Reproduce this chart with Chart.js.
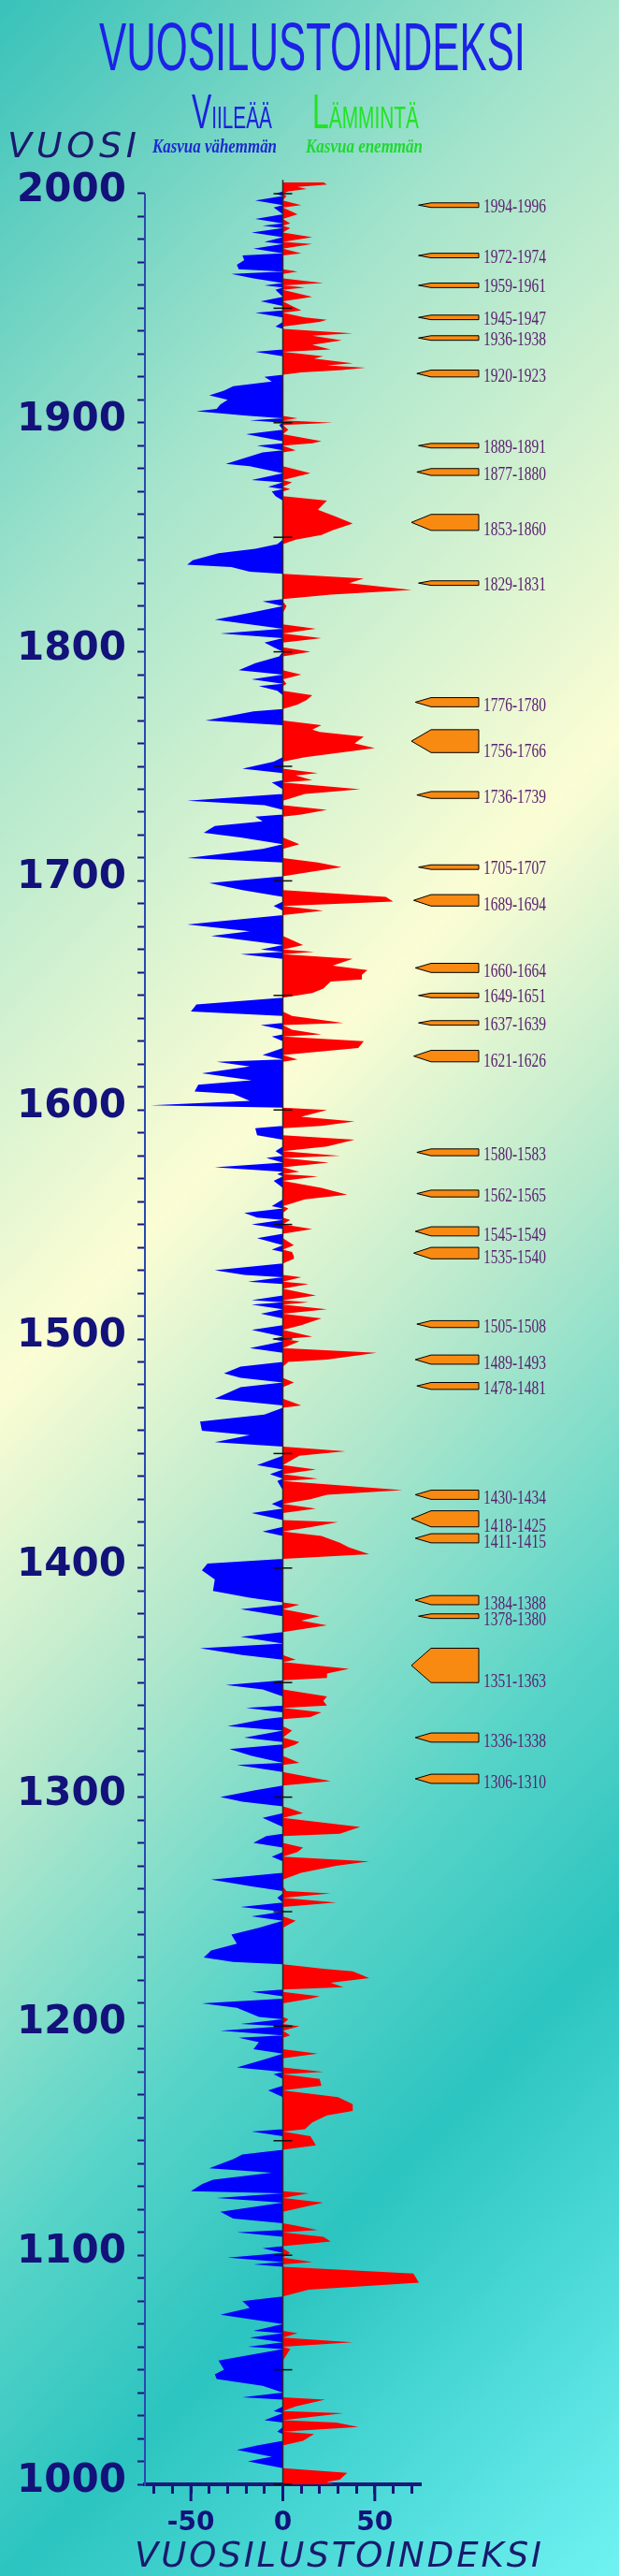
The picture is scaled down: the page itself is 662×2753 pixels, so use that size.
<!DOCTYPE html>
<html>
<head>
<meta charset="utf-8">
<script src="https://cdn.jsdelivr.net/npm/chart.js@4.4.1/dist/chart.umd.min.js"></script>
<style>
html,body{margin:0;padding:0;background:#3cc4bc;}
#wrap{position:relative;width:662px;height:2753px;overflow:hidden;}
</style>
</head>
<body>
<div id="wrap"><canvas id="Chart_1" width="662" height="2753"></canvas></div>
<script>
// vuosilustoindeksi, luettu kuvasta (vuosi -> indeksi)
let vuodet = [
1000,1001,1002,1005,1007,1010,1012,1015,1017,1019,1022,1023,1025,1027,1028,1031,1032,1034,1037,1038,
1040,1043,1046,1048,1050,1054,1059,1060,1062,1064,1066,1067,1070,1074,1077,1080,1082,1085,1088,1092,
1095,1096,1097,1099,1101,1103,1104,1106,1108,1110,1111,1113,1114,1116,1119,1123,1125,1127,1128,1131,
1133,1136,1138,1142,1144,1146,1148,1152,1154,1155,1158,1161,1163,1166,1169,1172,1174,1177,1179,1180,
1182,1186,1188,1190,1193,1195,1196,1198,1200,1201,1203,1204,1208,1210,1212,1213,1215,1216,1217,1219,
1221,1224,1225,1227,1228,1230,1233,1236,1240,1243,1246,1248,1250,1252,1254,1256,1258,1259,1261,1264,
1267,1270,1272,1274,1276,1278,1280,1283,1284,1287,1291,1293,1295,1296,1298,1300,1303,1305,1307,1311,
1314,1315,1318,1321,1323,1324,1326,1329,1331,1334,1335,1337,1339,1340,1342,1344,1347,1349,1351,1352,
1354,1356,1359,1360,1362,1365,1367,1370,1372,1375,1377,1379,1382,1384,1385,1387,1390,1395,1399,1402,
1404,1406,1409,1411,1414,1416,1418,1420,1421,1424,1426,1428,1430,1432,1434,1438,1439,1441,1443,1445,
1449,1451,1453,1455,1458,1460,1464,1467,1470,1471,1474,1479,1481,1483,1485,1488,1490,1491,1494,1496,
1499,1500,1501,1504,1506,1509,1511,1513,1515,1516,1517,1519,1522,1524,1525,1527,1528,1530,1533,1535,
1536,1538,1539,1541,1544,1546,1548,1550,1552,1553,1555,1557,1558,1561,1563,1566,1569,1571,1572,1573,
1575,1577,1579,1580,1582,1584,1587,1589,1592,1593,1595,1597,1600,1601,1602,1604,1607,1608,1611,1613,
1616,1619,1621,1622,1624,1627,1630,1632,1633,1635,1637,1638,1641,1643,1646,1649,1651,1653,1656,1657,
1659,1661,1663,1666,1668,1669,1670,1672,1676,1678,1681,1685,1687,1689,1691,1693,1696,1699,1702,1704,
1706,1708,1710,1714,1716,1719,1721,1724,1726,1728,1729,1731,1733,1735,1738,1740,1743,1744,1746,1747,
1749,1752,1754,1758,1760,1763,1765,1766,1768,1770,1774,1775,1777,1779,1781,1783,1785,1786,1788,1790,
1792,1795,1798,1800,1802,1804,1806,1808,1810,1812,1814,1817,1820,1822,1823,1825,1827,1830,1832,1834,
1835,1837,1838,1840,1843,1845,1847,1849,1851,1853,1856,1859,1862,1866,1868,1870,1871,1872,1874,1875,
1878,1881,1882,1887,1888,1890,1891,1892,1895,1897,1899,1900,1901,1902,1903,1905,1906,1908,1910,1912,
1914,1916,1918,1920,1921,1922,1923,1924,1925,1926,1928,1929,1931,1932,1934,1936,1938,1939,1941,1942,
1944,1945,1946,1948,1949,1951,1953,1955,1958,1959,1960,1961,1963,1965,1966,1967,1969,1971,1973,1974,
1976,1978,1979,1981,1983,1985,1986,1987,1989,1991,1994,1995,1997,1999,2000,2001,2002,2003,2004,2005];
let indeksi = [
28,24,31,35,0,-19,-6,-25,-14,11,17,-3,41,29,-10,33,-5,7,23,-22,
0,-11,-36,-37,-32,-35,4,-19,38,-18,8,-16,0,-34,-18,-22,0,14,74,71,
0,-16,16,-30,4,-11,0,26,22,-25,19,7,0,-27,-34,22,-36,14,-50,-44,
-38,-6,-40,-27,-22,0,18,15,-17,12,16,24,38,38,30,-8,21,20,-5,22,
-25,-8,19,-16,-13,-24,4,-34,9,-23,3,-13,-25,-44,15,20,-17,0,33,26,
47,38,23,0,-27,-43,-39,-25,-28,-13,7,-17,0,-23,29,-3,26,2,-17,-39,
10,29,47,-6,8,11,-16,-9,31,42,-11,11,4,0,-22,-34,-15,0,26,0,
-25,9,-17,-29,7,9,-21,5,-30,-10,15,21,-20,24,22,24,-11,-31,0,24,
24,36,0,7,-22,-45,0,-23,0,24,10,20,-23,9,0,-18,-38,-37,-44,-41,
0,47,36,31,21,-11,16,30,0,-17,18,-6,15,24,65,-3,19,-7,18,-14,
9,34,0,-37,-18,-44,-45,-10,0,10,-37,-23,6,-23,-32,-23,3,24,51,-18,
9,-6,16,-17,10,21,-12,24,-17,14,-17,18,0,14,-19,10,-21,-37,0,6,
6,5,-6,6,-14,0,16,-17,4,-14,-21,3,-6,12,35,21,-5,19,-3,9,
-37,25,-9,31,-4,24,39,-14,-15,21,39,10,24,0,-72,-18,-27,-48,-46,-17,
-44,-18,-36,8,-11,41,44,-6,21,5,-12,33,5,-50,-47,0,16,22,26,43,
43,46,27,38,-23,17,-12,11,-39,-18,-52,0,22,-5,60,56,-22,-40,0,16,
32,19,-52,-11,9,-23,-43,-37,-11,-15,10,24,-10,-52,12,42,-6,16,7,19,
-22,-5,12,50,39,44,20,16,21,-42,-16,0,8,13,16,-3,-13,2,-17,10,
-24,-15,-2,15,-5,-10,21,-34,18,-18,-37,-18,2,-11,0,26,70,36,44,0,
-18,-28,-52,-49,-35,-15,-3,7,21,27,38,29,19,24,-4,-6,4,-8,5,-17,
15,-18,-31,-11,7,-14,16,21,-20,3,-2,27,-18,8,-18,-47,-36,-34,-30,-40,
-32,-27,-6,-10,0,10,32,45,24,38,17,22,-15,26,16,32,16,38,0,-4,
20,24,12,-15,10,5,-12,16,-4,12,-10,22,-16,-28,8,-24,-25,-21,-22,10,
-16,16,-10,16,-17,4,-11,4,-15,8,-5,10,-15,2,-4,3,13,8,24,22];

// lämpimät jaksot (nuolet) ja niiden tekstit
let jaksoTekstit = ['1994-1996','1972-1974','1959-1961','1945-1947','1936-1938','1920-1923','1889-1891','1877-1880',
  '1853-1860','1829-1831','1776-1780','1756-1766','1736-1739','1705-1707','1689-1694','1660-1664','1649-1651',
  '1637-1639','1621-1626','1580-1583','1562-1565','1545-1549','1535-1540','1505-1508','1489-1493','1478-1481',
  '1430-1434','1418-1425','1411-1415','1384-1388','1378-1380','1351-1363','1336-1338','1306-1310'];
let jaksoAlku = [1994,1972,1959,1945,1936,1920,1889,1877,1853,1829,1776,1756,1736,1705,1689,1660,1649,
  1637,1621,1580,1562,1545,1535,1505,1489,1478,1430,1418,1411,1384,1378,1350,1324,1306];
let jaksoLoppu = [1996,1974,1961,1947,1938,1923,1891,1880,1860,1831,1780,1766,1739,1707,1694,1664,1651,
  1639,1626,1583,1565,1549,1540,1508,1493,1481,1434,1425,1415,1388,1380,1365,1328,1310];

let vuosiTicks = [];
for (let v = 1000; v <= 2000; v += 10) vuosiTicks.push(v);
let indeksiTicks = [-70,-60,-50,-40,-30,-20,-10,0,10,20,30,40,50,60,70];
let indeksiLabels = [-50, 0, 50];

const NAVY = '#16167a';
const yMax = 2006;
const pxYear = 2.448;
const topPad = 2655 - (yMax - 1000) * pxYear;

let lammin = vuodet.map((v, i) => ({ x: Math.max(indeksi[i], 0), y: v }));
let viilea = vuodet.map((v, i) => ({ x: Math.min(indeksi[i], 0), y: v }));

function fitText(ctx, text, x, y, width, font, color, spaced) {
  ctx.save();
  ctx.font = font;
  ctx.fillStyle = color;
  ctx.textAlign = 'left';
  ctx.textBaseline = 'alphabetic';
  let extra = 0;
  if (spaced && 'letterSpacing' in ctx) {
    const w0 = ctx.measureText(text).width;
    const sp = Math.max(0, (width - w0) / (text.length - 1));
    ctx.letterSpacing = sp + 'px';
    extra = sp;
  }
  const w = ctx.measureText(text).width - extra;
  ctx.translate(x, y);
  ctx.scale(width / w, 1);
  ctx.fillText(text, 0, 0);
  ctx.restore();
}

function smallCaps(ctx, big, rest, x, y, width, bigSize, smallSize, color) {
  ctx.save();
  const fam = '"Liberation Sans Narrow","Liberation Sans",Arial,sans-serif';
  ctx.font = bigSize + 'px ' + fam;
  const w1 = ctx.measureText(big).width;
  ctx.font = smallSize + 'px ' + fam;
  const w2 = ctx.measureText(rest).width;
  ctx.translate(x, y);
  ctx.scale(width / (w1 + w2), 1);
  ctx.fillStyle = color;
  ctx.font = bigSize + 'px ' + fam;
  ctx.fillText(big, 0, 0);
  ctx.font = smallSize + 'px ' + fam;
  ctx.fillText(rest, w1, 0);
  ctx.restore();
}

const tausta = {
  id: 'tausta',
  beforeDraw(chart) {
    const ctx = chart.ctx;
    const g = ctx.createLinearGradient(0, 0, 1724, 1630);
    g.addColorStop(0, '#38c2ba');
    g.addColorStop(0.2, '#a4e4cc');
    g.addColorStop(0.43, '#fbfdd4');
    g.addColorStop(0.56, '#b4e8cc');
    g.addColorStop(0.7, '#58d4c8');
    g.addColorStop(0.8, '#2cc4c0');
    g.addColorStop(1, '#70f2f2');
    ctx.save();
    ctx.fillStyle = g;
    ctx.fillRect(0, 0, chart.width, chart.height);
    ctx.restore();
  }
};

const koristeet = {
  id: 'koristeet',
  afterDraw(chart) {
    const ctx = chart.ctx;
    const ys = chart.scales.y, xs = chart.scales.x;
    const a = chart.chartArea;
    const x0 = xs.getPixelForValue(0);

    ctx.save();
    // nollaviiva
    ctx.strokeStyle = '#3a2424';
    ctx.lineWidth = 1.5;
    ctx.beginPath();
    ctx.moveTo(x0, a.top);
    ctx.lineTo(x0, a.bottom);
    ctx.stroke();

    // pystyakseli 1000-2000
    ctx.strokeStyle = '#2a48b0';
    ctx.lineWidth = 2;
    ctx.beginPath();
    ctx.moveTo(a.left, ys.getPixelForValue(2000));
    ctx.lineTo(a.left, ys.getPixelForValue(1000) + 2);
    ctx.stroke();

    // nollaviivan merkit 50 v välein
    ctx.strokeStyle = '#101010';
    ctx.lineWidth = 1.5;
    for (let v = 1000; v <= 2000; v += 50) {
      const y = ys.getPixelForValue(v);
      ctx.beginPath();
      ctx.moveTo(x0 - 10, y);
      ctx.lineTo(x0 + 10, y);
      ctx.stroke();
    }

    // pitkät merkit -50, 0, 50
    ctx.strokeStyle = NAVY;
    ctx.lineWidth = 3;
    indeksiLabels.forEach(v => {
      const x = xs.getPixelForValue(v);
      ctx.beginPath();
      ctx.moveTo(x, a.bottom);
      ctx.lineTo(x, a.bottom + 18);
      ctx.stroke();
    });
    ctx.restore();

    // nuolet
    let prevBase = -100;
    jaksoTekstit.forEach((t, i) => {
      const yTop = ys.getPixelForValue(jaksoLoppu[i]);
      const yBot = ys.getPixelForValue(jaksoAlku[i]);
      const h = yBot - yTop;
      const yc = (yTop + yBot) / 2;
      const base = a.right + 11, right = a.right + 62;
      const tip = base - Math.min(21, 10 + h * 0.7);
      ctx.save();
      ctx.beginPath();
      ctx.moveTo(tip, yc);
      ctx.lineTo(base, yTop);
      ctx.lineTo(right, yTop);
      ctx.lineTo(right, yBot);
      ctx.lineTo(base, yBot);
      ctx.closePath();
      ctx.fillStyle = '#f88a12';
      ctx.fill();
      ctx.strokeStyle = '#000000';
      ctx.lineWidth = 1;
      ctx.stroke();
      ctx.restore();
      let bl = Math.max(yBot + 5, prevBase + 17);
      prevBase = bl;
      fitText(ctx, t, right + 5, bl, 67, '20px "Liberation Serif","Times New Roman",serif', '#5a2070');
    });

    // otsikot
    fitText(ctx, 'VUOSILUSTOINDEKSI', 106, 75, 456, '72px "Liberation Sans Narrow","Liberation Sans",Arial,sans-serif', '#1c22e6');
    smallCaps(ctx, 'V', 'IILEÄÄ', 205, 137, 86, 52, 34, '#1a22dc');
    smallCaps(ctx, 'L', 'ÄMMINTÄ', 334, 137, 114, 52, 34, '#22e422');
    fitText(ctx, 'Kasvua vähemmän', 163, 163, 133, 'italic bold 21px "Liberation Serif",serif', '#1c2ad0');
    fitText(ctx, 'Kasvua enemmän', 327, 163, 125, 'italic bold 21px "Liberation Serif",serif', '#20d830');
    fitText(ctx, 'VUOSI', 8, 168, 138, 'italic 38px "DejaVu Sans",sans-serif', '#1a1a6e', true);
    fitText(ctx, 'VUOSILUSTOINDEKSI', 144, 2743, 435, 'italic 37px "DejaVu Sans",sans-serif', '#1a1a6e', true);
  }
};

let cxt = document.getElementById('Chart_1');
let kaavio = new Chart(cxt, {
  type: 'line',
  data: {
    datasets: [
      { label: 'Lämmintä', data: lammin, backgroundColor: '#ff0000', borderColor: 'rgba(0,0,0,0)', borderWidth: 0,
        pointRadius: 0, fill: 'origin', tension: 0 },
      { label: 'Viileää', data: viilea, backgroundColor: '#0000ff', borderColor: 'rgba(0,0,0,0)', borderWidth: 0,
        pointRadius: 0, fill: 'origin', tension: 0 }
    ]
  },
  options: {
    indexAxis: 'y',
    responsive: false,
    animation: false,
    devicePixelRatio: 1,
    events: [],
    layout: { padding: { left: 0, right: 212, top: topPad, bottom: 0 } },
    plugins: { legend: { display: false }, tooltip: { enabled: false } },
    scales: {
      y: {
        type: 'linear', min: 1000, max: yMax,
        afterBuildTicks: s => { s.ticks = vuosiTicks.map(v => ({ value: v })); },
        afterFit: s => { s.width = 155; },
        border: { display: false },
        grid: { drawOnChartArea: false, tickLength: 8, tickWidth: 2, tickColor: NAVY },
        ticks: {
          autoSkip: false, padding: 12, labelOffset: -3, color: '#12127a',
          font: { family: 'DejaVu Sans', weight: 'bold', size: 42 },
          callback: v => (v % 100 === 0 ? String(v) : '')
        }
      },
      x: {
        type: 'linear', min: -75, max: 75,
        afterBuildTicks: s => { s.ticks = indeksiTicks.map(v => ({ value: v })); },
        afterFit: s => { s.height = 98; },
        border: { display: true, color: '#1a1a78', width: 4 },
        grid: {
          drawOnChartArea: false, tickLength: 10, tickWidth: 3, tickColor: NAVY
        },
        ticks: {
          autoSkip: false, maxRotation: 0, padding: 15, color: '#12127a',
          font: { family: 'DejaVu Sans', weight: 'bold', size: 28 },
          callback: v => (indeksiLabels.includes(v) ? String(v) : '')
        }
      }
    }
  },
  plugins: [tausta, koristeet]
});
</script>
</body>
</html>
